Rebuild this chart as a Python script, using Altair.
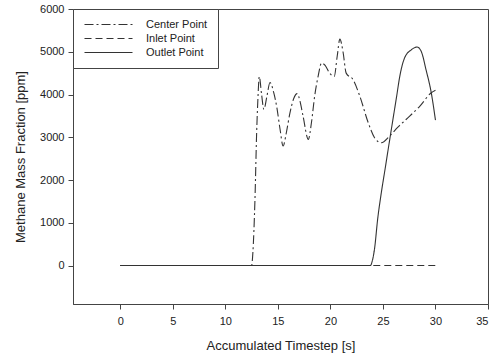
import altair as alt
import pandas as pd

series_names = ["Center Point", "Inlet Point", "Outlet Point"]

center_t = [0, 12.5, 12.62, 12.82, 12.98, 13.1, 13.23, 13.45, 13.67, 13.95, 14.25, 14.6, 14.9, 15.2, 15.5,
            15.8, 16.15, 16.5, 16.84, 17.1, 17.4, 17.9, 18.2, 18.5, 18.85, 19.15, 19.5, 19.88, 20.36, 20.65,
            20.9, 21.2, 21.5, 22.15, 22.8, 23.6, 24.2, 24.85, 25.64, 26.4, 27.2, 28.5, 29.6, 30.0]
center_y = [0, 0, 300, 1550, 3110, 3900, 4420, 4000, 3650, 3950, 4280, 4050, 3700, 3200, 2795,
            3100, 3570, 3900, 4020, 3850, 3490, 2950, 3350, 3960, 4450, 4735, 4680, 4515, 4420, 4900,
            5295, 5000, 4500, 4350, 3960, 3340, 2990, 2870, 3030, 3230, 3415, 3725, 4040, 4100]

inlet_t = [0, 30]
inlet_y = [0, 0]

outlet_t = [0, 23.8, 24.0, 24.2, 24.5, 24.85, 25.2, 25.5, 25.95, 26.3, 26.6, 27.05, 27.7, 28.25, 28.65,
            29.1, 29.6, 30.0]
outlet_y = [0, 0, 120, 390, 1090, 1710, 2250, 2720, 3415, 3950, 4420, 4850, 5045, 5110, 5005,
            4580, 4040, 3400]

x_ticks = [0, 5, 10, 15, 20, 25, 30, 35]
y_ticks = [0, 1000, 2000, 3000, 4000, 5000, 6000]

rows = []
for name, ts, ys in zip(series_names, [center_t, inlet_t, outlet_t], [center_y, inlet_y, outlet_y]):
    for i, (t, v) in enumerate(zip(ts, ys)):
        rows.append({"series": name, "t": t, "v": v, "i": i})
df = pd.DataFrame(rows)

FONT = "Liberation Sans"
TXT = "#222222"
LINE = "#333333"

chart = alt.Chart(df).mark_line(
    color=LINE, strokeWidth=1.1, interpolate="monotone", clip=True
).encode(
    x=alt.X("t:Q",
            scale=alt.Scale(domain=[-4.5, 35], nice=False, zero=False),
            axis=alt.Axis(values=x_ticks, title="Accumulated Timestep [s]", grid=False,
                          tickSize=5, labelPadding=6, titlePadding=13)),
    y=alt.Y("v:Q",
            scale=alt.Scale(domain=[-900, 6000], nice=False, zero=False),
            axis=alt.Axis(values=y_ticks, format="d", title="Methane Mass Fraction [ppm]", grid=False,
                          tickSize=5, labelPadding=4, titlePadding=12)),
    strokeDash=alt.StrokeDash(
        "series:N",
        scale=alt.Scale(domain=series_names, range=[[9, 3, 2, 3], [7, 4], [1, 0]]),
        legend=alt.Legend(
            title=None, orient="none", legendX=0, legendY=0,
            direction="vertical",
            strokeColor="#444444", fillColor="white", padding=10, cornerRadius=0,
            symbolType="M-1,0H11", symbolSize=64, symbolStrokeWidth=1.1,
            symbolStrokeColor=LINE, symbolFillColor="transparent",
            labelOffset=52, labelFontSize=11,
            labelFont=FONT, labelColor=TXT, rowPadding=2,
        ),
    ),
    detail="series:N",
    order="i:Q",
).properties(
    width=415, height=295,
    autosize=alt.AutoSizeParams(type="none"),
    padding={"left": 73, "top": 9, "right": 12, "bottom": 54},
).configure_view(
    stroke="#444444", strokeWidth=1
).configure_axis(
    domainColor="#444444", tickColor="#444444", labelColor=TXT, titleColor=TXT,
    labelFont=FONT, titleFont=FONT, labelFontSize=11, titleFontSize=13,
    titleFontWeight="normal"
)

chart.save("out.html", embed_options={"renderer": "svg", "actions": False})
